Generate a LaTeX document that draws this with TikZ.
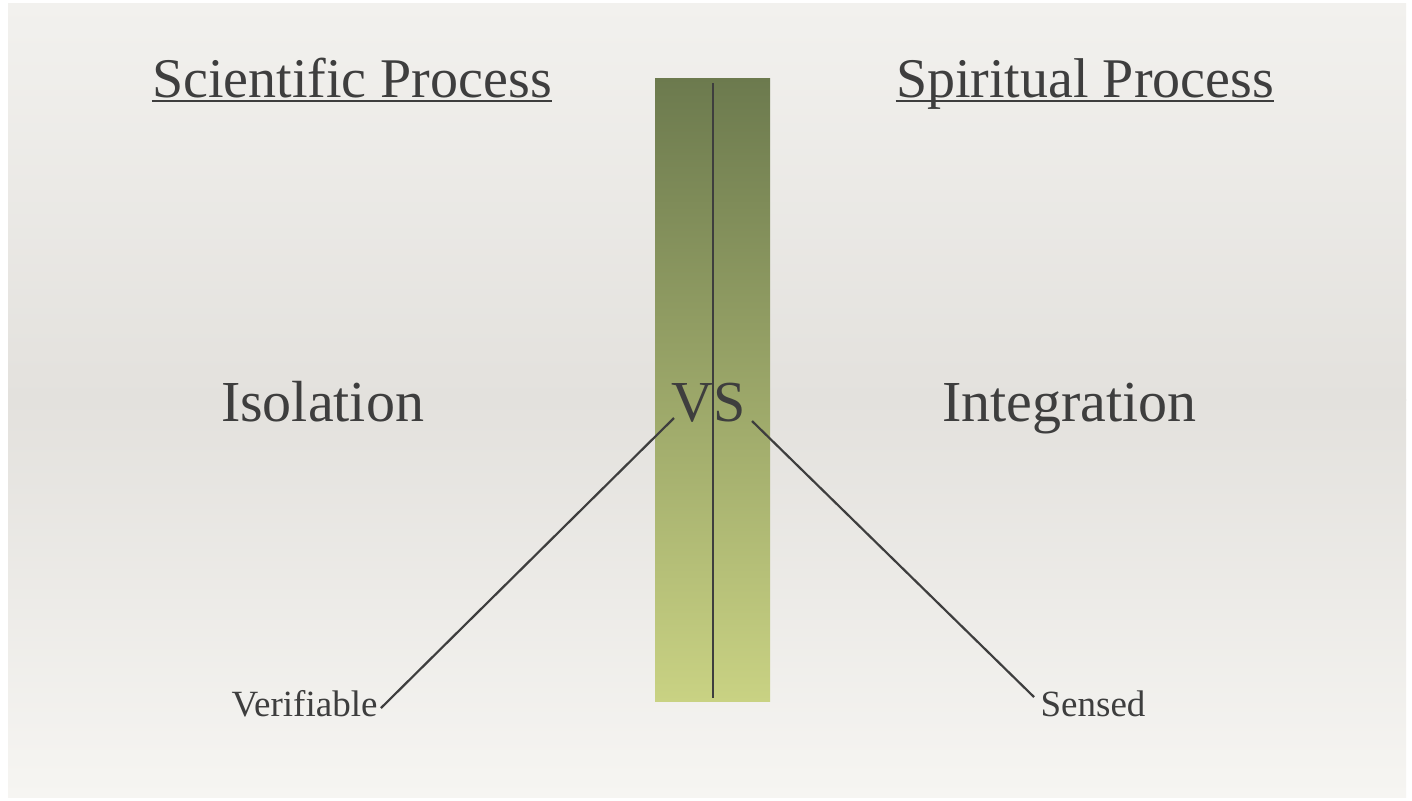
\documentclass[tikz,border=0pt]{standalone}
\usepackage{fontspec}
\setmainfont{Liberation Serif}
\definecolor{ink}{HTML}{3E3E3E}
\definecolor{bartop}{HTML}{6C7A4E}
\definecolor{barbot}{HTML}{C9D283}
\definecolor{bgtop}{HTML}{F2F1EE}
\definecolor{bgmid}{HTML}{E3E1DD}
\definecolor{bgbot}{HTML}{F6F5F2}
\begin{document}
\begin{tikzpicture}[x=0.5pt,y=-0.5pt,
  title/.style={text=ink,font=\fontsize{28}{34}\selectfont,anchor=base,inner sep=0pt},
  big/.style={text=ink,font=\fontsize{29}{35}\selectfont,anchor=base,inner sep=0pt},
  small/.style={text=ink,font=\fontsize{18.5}{22}\selectfont,anchor=base,inner sep=0pt},
  conn/.style={draw=ink,line width=1.1pt}]
\useasboundingbox (0,0) rectangle (1412,800);
\fill[white] (0,0) rectangle (1412,800);
\shade[top color=bgtop,bottom color=bgmid] (8,3) rectangle (1406,400);
\shade[top color=bgmid,bottom color=bgbot] (8,399.5) rectangle (1406,797);
% bar
\shade[top color=bartop,bottom color=barbot] (655,78) rectangle (770,701);
\coordinate (vtop) at (713,83);
\coordinate (vbot) at (713,698);
\draw[conn] (vtop) -- (vbot);
% titles
\node[title] (t1) at (352,97) {Scientific Process};
\node[title] (t2) at (1085,97) {Spiritual Process};
\draw[ink,line width=1.1pt] ([yshift=-2pt]t1.base west) -- ([yshift=-2pt]t1.base east);
\draw[ink,line width=1.1pt] ([yshift=-2pt]t2.base west) -- ([yshift=-2pt]t2.base east);
% main words
\node[big] (iso) at (322.5,421) {Isolation};
\node[big] (vs) at (709,421) {VS};
\node[big] (integ) at (1069.5,421) {Integration};
% lower words
\node[small] (verif) at (304.5,716) {Verifiable};
\node[small] (sensed) at (1093,716) {Sensed};
\coordinate (la) at (674,418);
\coordinate (lb) at (381,708);
\coordinate (ra) at (752,421);
\coordinate (rb) at (1034,697);
\draw[conn] (la) -- (lb);
\draw[conn] (ra) -- (rb);
\end{tikzpicture}
\end{document}
